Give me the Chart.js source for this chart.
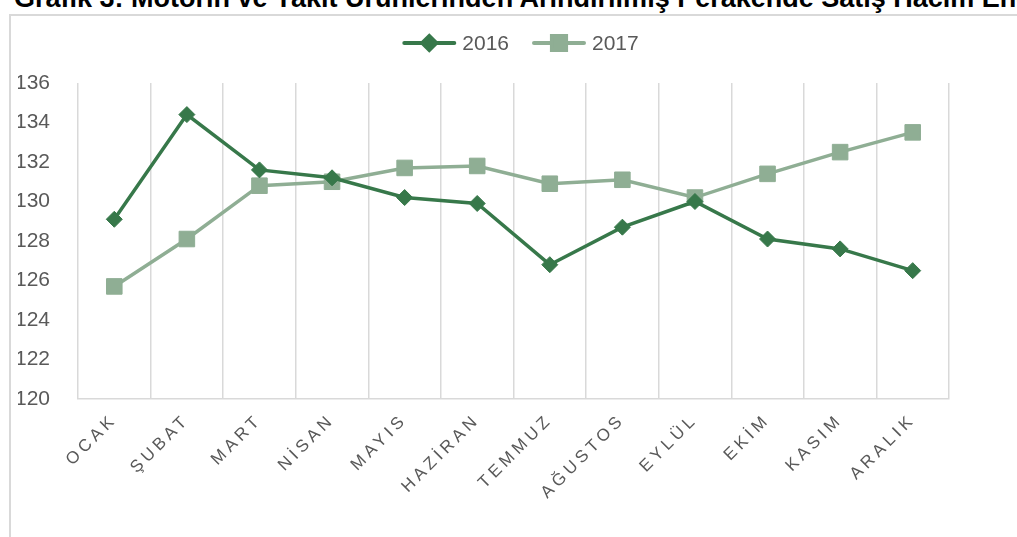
<!DOCTYPE html>
<html>
<head>
<meta charset="utf-8">
<script src="https://cdn.jsdelivr.net/npm/chart.js@4"></script>
<style>
  html, body { margin: 0; padding: 0; background: #fff; overflow: hidden; }
  #title {
    position: absolute; left: 14px; top: -17px; white-space: nowrap; line-height: 26px;
    font: bold 27px "Liberation Sans", Arial, sans-serif; color: #000;
  }
  #box {
    position: absolute; left: 9px; top: 14px; width: 1100px; height: 600px;
    border: 2px solid #d9d9d9; box-sizing: border-box;
  }
  #wrap { position: absolute; left: 0; top: 0; width: 1017px; height: 537px; }
</style>
</head>
<body>
<div id="title">Grafik 3: Motorin ve Yakıt Ürünlerinden Arındırılmış Perakende Satış Hacim Endeksi</div>
<div id="box"></div>
<div id="wrap"><canvas id="chart"></canvas></div>
<script>
// aylar ve seriler
const months = ['OCAK', 'ŞUBAT', 'MART', 'NİSAN', 'MAYIS', 'HAZİRAN', 'TEMMUZ', 'AĞUSTOS', 'EYLÜL', 'EKİM', 'KASIM', 'ARALIK'];
const values2016 = [129.1, 134.4, 131.6, 131.2, 130.2, 129.9, 126.8, 128.7, 130.0, 128.1, 127.6, 126.5];
const values2017 = [125.7, 128.1, 130.8, 131.0, 131.7, 131.8, 130.9, 131.1, 130.2, 131.4, 132.5, 133.5];
const seriesNames = ['2016', '2017'];
const yTicks = [120, 122, 124, 126, 128, 130, 132, 134, 136];

const dark = '#37784a';
const light = '#8fae94';
const textColor = '#595959';
const gridColor = '#d9d9d9';
const fontFamily = '"Liberation Sans", Arial, sans-serif';

// x etiketlerinde harf aralığı
const spacedLabels = {
  id: 'spacedLabels',
  afterLayout(chart) {
    const xs = chart.scales.x;
    if (xs._spaced) return;
    const orig = xs.drawLabels;
    xs.drawLabels = function (area) {
      this.ctx.save();
      this.ctx.letterSpacing = '4px';
      orig.call(this, area);
      this.ctx.restore();
    };
    xs._spaced = true;
  }
};

// üstteki çizgili lejant
const lineLegend = {
  id: 'lineLegend',
  afterDraw(chart) {
    const ctx = chart.ctx;
    const area = chart.chartArea;
    const lineW = 54, gap = 6, itemGap = 23, cy = 43;
    ctx.save();
    ctx.font = '21px ' + fontFamily;
    const widths = chart.data.datasets.map(d => ctx.measureText(d.label).width);
    let total = 0;
    widths.forEach((w, i) => { total += lineW + gap + w + (i ? itemGap : 0); });
    let x = (area.left + area.right) / 2 + 7 - total / 2;
    chart.data.datasets.forEach((ds, i) => {
      ctx.strokeStyle = ds.borderColor;
      ctx.lineWidth = 4;
      ctx.lineCap = 'round';
      ctx.beginPath();
      ctx.moveTo(x + 2, cy);
      ctx.lineTo(x + lineW - 2, cy);
      ctx.stroke();
      ctx.fillStyle = ds.pointBackgroundColor;
      ctx.strokeStyle = ds.pointBorderColor;
      Chart.helpers.drawPoint(ctx, {
        pointStyle: ds.pointStyle,
        radius: ds.pointStyle === 'rect' ? 10 : 7,
        rotation: 0,
        borderWidth: 1
      }, x + lineW / 2, cy);
      ctx.fillStyle = textColor;
      ctx.textBaseline = 'middle';
      ctx.textAlign = 'left';
      ctx.fillText(ds.label, x + lineW + gap, cy + 1);
      x += lineW + gap + widths[i] + itemGap;
    });
    ctx.restore();
  }
};

new Chart(document.getElementById('chart'), {
  type: 'line',
  data: {
    labels: months,
    datasets: [
      {
        label: seriesNames[0],
        data: values2016,
        borderColor: dark,
        backgroundColor: dark,
        borderWidth: 3.5,
        pointStyle: 'rectRot',
        pointRadius: 8,
        pointBorderWidth: 1,
        pointBackgroundColor: dark,
        pointBorderColor: dark,
        tension: 0
      },
      {
        label: seriesNames[1],
        data: values2017,
        borderColor: light,
        backgroundColor: light,
        borderWidth: 3.5,
        pointStyle: 'rect',
        pointRadius: 11,
        pointBorderWidth: 1,
        pointBackgroundColor: light,
        pointBorderColor: light,
        tension: 0
      }
    ]
  },
  options: {
    responsive: true,
    maintainAspectRatio: false,
    animation: false,
    layout: { padding: { left: 18, right: 68, top: 83, bottom: 28 } },
    plugins: {
      legend: { display: false },
      tooltip: { enabled: false }
    },
    scales: {
      x: {
        offset: true,
        grid: { display: true, offset: true, color: gridColor, lineWidth: 1.5, drawTicks: false },
        border: { display: true, color: gridColor, width: 1.5 },
        ticks: {
          color: textColor,
          font: { family: fontFamily, size: 17 },
          minRotation: 45,
          maxRotation: 45,
          padding: 11,
          autoSkip: false
        },
        afterFit(s) { s.height = 110; }
      },
      y: {
        min: 120,
        max: 136,
        grid: { display: false },
        border: { display: false },
        afterBuildTicks(s) { s.ticks = yTicks.map(v => ({ value: v })); },
        ticks: {
          color: textColor,
          font: { family: fontFamily, size: 21 },
          padding: 20
        },
        afterFit(s) { s.width = 60; }
      }
    }
  },
  plugins: [spacedLabels, lineLegend]
});
</script>
</body>
</html>
